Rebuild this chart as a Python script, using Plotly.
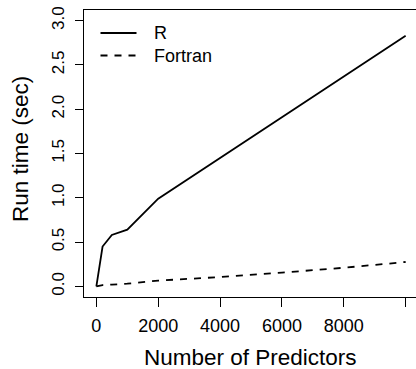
import plotly.graph_objects as go

predictors = [0, 200, 500, 1000, 2000, 4000, 6000, 8000, 10000]
r_time = [0.0, 0.45, 0.58, 0.64, 0.99, 1.45, 1.91, 2.37, 2.83]
fortran_time = [0.0, 0.015, 0.02, 0.03, 0.065, 0.105, 0.155, 0.21, 0.275]
series_names = ["R", "Fortran"]
x_ticks = [0, 2000, 4000, 6000, 8000, 10000]
x_tick_labels = ["0", "2000", "4000", "6000", "8000", ""]
y_ticks = [0.0, 0.5, 1.0, 1.5, 2.0, 2.5, 3.0]
y_tick_labels = ["0.0", "0.5", "1.0", "1.5", "2.0", "2.5", "3.0"]
x_title = "Number of Predictors"
y_title = "Run time (sec)"

FONT = "Liberation Sans, Arial, Helvetica, sans-serif"
W, H = 416, 369
L, R, T, B = 84, 0, 10, 72
PW, PH = W - L - R, H - T - B
DASH = "7px,7px"
LW = 1.8


def px_x(x):  # page pixel -> paper x
    return (x - L) / PW


def px_y(y):  # page pixel -> paper y
    return (H - B - y) / PH


fig = go.Figure()
fig.add_trace(go.Scatter(x=predictors, y=r_time, mode="lines", name=series_names[0],
                         line=dict(color="black", width=LW)))
fig.add_trace(go.Scatter(x=predictors, y=fortran_time, mode="lines", name=series_names[1],
                         line=dict(color="black", width=LW, dash=DASH)))

# R-style legend (no box): line samples + labels
legend_rows = [(33, "solid"), (55.5, DASH)]
shapes, annotations = [], []
for name, (yrow, dash) in zip(series_names, legend_rows):
    shapes.append(dict(type="line", xref="paper", yref="paper",
                       x0=px_x(100.5), x1=px_x(136.5), y0=px_y(yrow), y1=px_y(yrow),
                       line=dict(color="black", width=LW, dash=dash)))
    annotations.append(dict(text=name, xref="paper", yref="paper",
                            x=px_x(152), y=px_y(yrow), xanchor="left", yanchor="middle",
                            showarrow=False, font=dict(size=18)))

annotations += [
    dict(text=x_title, xref="paper", yref="paper",
         x=px_x(250), y=px_y(357),
         xanchor="center", yanchor="middle", showarrow=False,
         font=dict(size=22.5)),
    dict(text=y_title, xref="paper", yref="paper",
         x=px_x(20), y=px_y(149),
         xanchor="center", yanchor="middle", showarrow=False,
         textangle=-90, font=dict(size=22.5)),
]

fig.update_layout(
    width=W, height=H,
    margin=dict(l=L, r=R, t=T, b=B, autoexpand=False),
    paper_bgcolor="white", plot_bgcolor="white",
    font=dict(family=FONT, size=18, color="black"),
    showlegend=False,
    xaxis=dict(range=[-400, 10335], tickvals=x_ticks, ticktext=x_tick_labels,
               showgrid=False, zeroline=False, showline=True, linecolor="black",
               linewidth=1, mirror=True, ticks="outside", ticklen=9,
               tickcolor="black", tickwidth=1, automargin=False,
               tickfont=dict(size=18), ticklabelstandoff=3,
               ticklabeloverflow="allow"),
    yaxis=dict(range=[-0.12, 3.12], tickvals=y_ticks, ticktext=y_tick_labels,
               showgrid=False, zeroline=False, showline=True, linecolor="black",
               linewidth=1, mirror=False, ticks="outside", ticklen=8,
               tickcolor="black", tickwidth=1, tickangle=-90, automargin=False,
               tickfont=dict(size=17), ticklabelstandoff=4,
               ticklabeloverflow="allow"),
    shapes=shapes,
    annotations=annotations,
)

fig.write_html("out.html", config={"displayModeBar": False},
               post_script="document.body.style.margin='0';")
